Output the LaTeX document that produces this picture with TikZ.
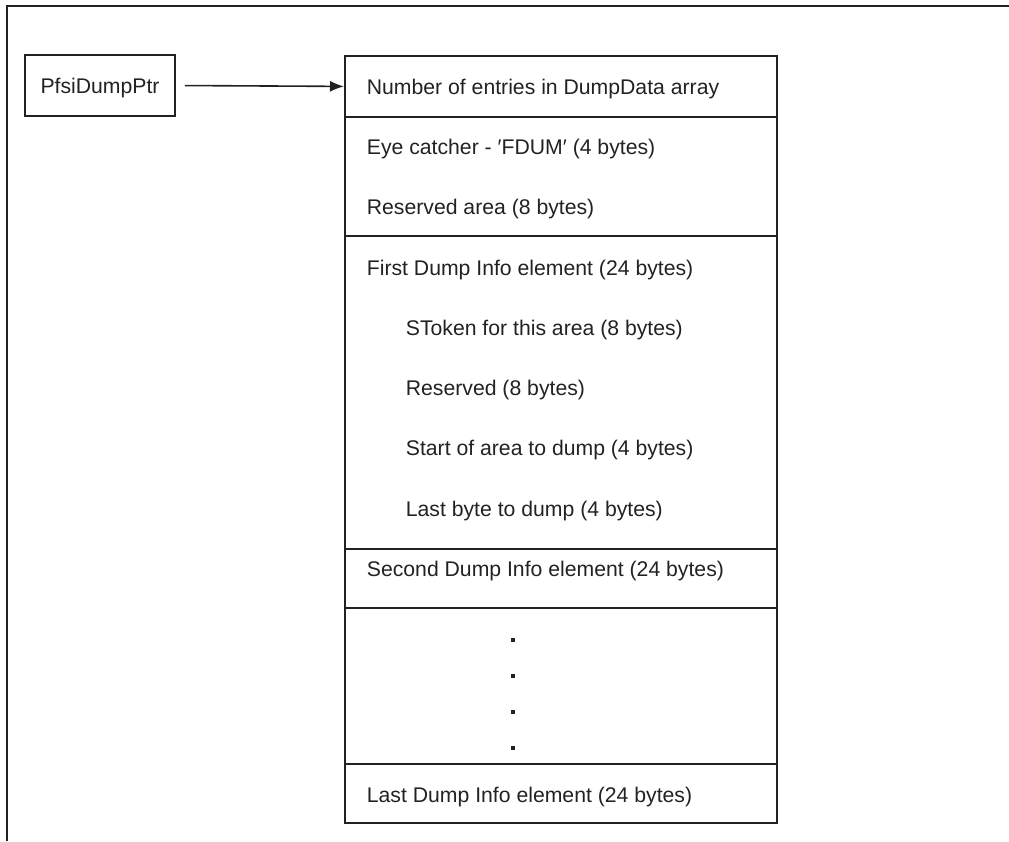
\documentclass[tikz,border=0pt]{standalone}
\usepackage{fontspec}
\setmainfont{Liberation Sans}
\usetikzlibrary{arrows.meta}
\definecolor{ink}{HTML}{222222}
\begin{document}
\begin{tikzpicture}[x=1pt,y=-1pt,
  line width=1.8pt, draw=ink,
  rowbox/.style={draw=ink, minimum width=432pt, inner sep=0pt, anchor=north west},
  lbl/.style={anchor=base west, inner sep=0pt, text=ink, font=\fontsize{21.2}{25}\selectfont},
  dotmark/.style={fill=ink, draw=none, minimum size=3.5pt, inner sep=0pt}]
\useasboundingbox (0,0) rectangle (1009,841);
% outer frame (top and left)
\draw[ink, line width=2pt] (7,841) -- (7,6) -- (1009,6);
% pointer box
\node[draw=ink, minimum width=150pt, minimum height=61pt, inner sep=0pt,
      text height=15pt, text depth=0pt,
      font=\fontsize{21.2}{25}\selectfont, text=ink] (ptr) at (100,85.5) {PfsiDumpPtr};
% rows
\node[rowbox, minimum height=61pt]  (r1) at (344,55)  {};
\node[rowbox, minimum height=119pt] (r2) at (344,116) {};
\node[rowbox, minimum height=313pt] (r3) at (344,235) {};
\node[rowbox, minimum height=59pt]  (r4) at (344,548) {};
\node[rowbox, minimum height=156pt] (r5) at (344,607) {};
\node[rowbox, minimum height=59pt]  (r6) at (344,763) {};
% arrow
\draw[ink, line width=1.6pt, shorten <=9pt, -{Latex[length=14pt,width=11pt]}] (ptr.east) -- (r1.west);
% labels
\node[lbl] (t1) at (366,94)  {Number of entries in DumpData array};
\node[lbl] (t2) at (366,154) {Eye catcher - \char"2032\relax FDUM\char"2032\relax\ (4 bytes)};
\node[lbl] (t3) at (366,214) {Reserved area (8 bytes)};
\node[lbl] (t4) at (366,275) {First Dump Info element (24 bytes)};
\node[lbl] (t5) at (405,335) {SToken for this area (8 bytes)};
\node[lbl] (t6) at (405,395) {Reserved (8 bytes)};
\node[lbl] (t7) at (405,455) {Start of area to dump (4 bytes)};
\node[lbl] (t8) at (405,516) {Last byte to dump (4 bytes)};
\node[lbl] (t9) at (366,576) {Second Dump Info element (24 bytes)};
\node[lbl] (t10) at (366,802) {Last Dump Info element (24 bytes)};
% dots
\node[dotmark] (d1) at (513,640) {};
\node[dotmark] (d2) at (513,676) {};
\node[dotmark] (d3) at (513,712) {};
\node[dotmark] (d4) at (513,748) {};
\end{tikzpicture}
\end{document}
